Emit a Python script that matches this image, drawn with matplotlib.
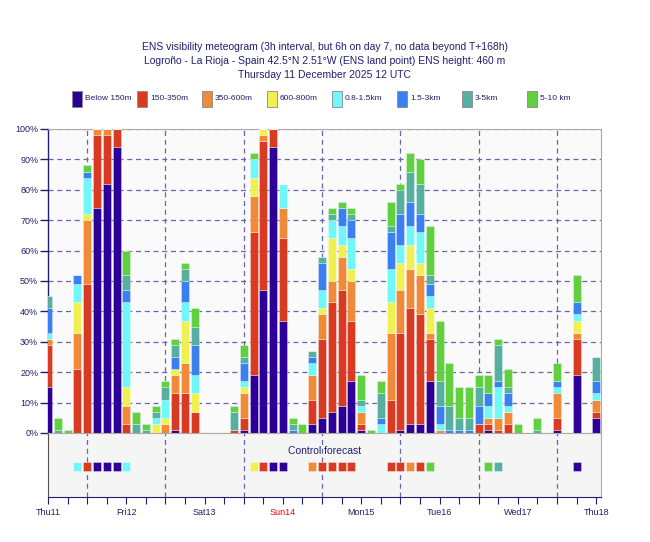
import numpy as np
import matplotlib
matplotlib.use("Agg")
import matplotlib.pyplot as plt
from matplotlib.patches import Rectangle

plt.rcParams["font.family"] = ["Liberation Sans", "DejaVu Sans"]

# forecast steps (hours from base time): 3h up to T+144, then 6h
steps = list(range(0, 145, 3)) + [150, 156, 162, 168]

categories = ["Below 150m", "150-350m", "350-600m", "600-800m",
              "0.8-1.5km", "1.5-3km", "3-5km", "5-10 km"]
colors = ["#2c0096", "#d83a22", "#f08a38", "#f0f050",
          "#70f8f8", "#3a80f0", "#55b0a0", "#60d040"]

# percentage of ensemble members per class, one value per step
below150 = [15, 0, 0, 0, 0, 74, 82, 94, 0, 0, 0, 0, 0, 1, 0, 0, 0, 0, 0, 0,
            1, 19, 47, 94, 37, 0, 0, 3, 5, 7, 9, 17, 1, 0, 0, 0, 1, 3, 3, 17,
            0, 0, 0, 0, 0, 1, 0, 0, 0, 0, 1, 19, 5]
v150_350 = [14, 0, 0, 21, 49, 24, 16, 6, 3, 0, 0, 0, 0, 12, 13, 7, 0, 0, 0, 1,
            4, 47, 49, 6, 27, 0, 0, 8, 26, 36, 38, 20, 2, 0, 0, 11, 32, 38, 36, 14,
            0, 0, 0, 0, 3, 2, 1, 3, 0, 0, 4, 12, 2]
v350_600 = [2, 0, 0, 12, 21, 2, 2, 0, 6, 0, 0, 0, 3, 6, 10, 0, 0, 0, 0, 0,
            8, 12, 2, 0, 10, 0, 0, 8, 8, 7, 11, 13, 4, 0, 0, 22, 14, 13, 13, 2,
            1, 0, 0, 0, 0, 2, 4, 4, 0, 0, 8, 2, 4]
v600_800 = [0, 0, 0, 10, 2, 0, 0, 0, 6, 0, 0, 3, 2, 2, 14, 6, 0, 0, 0, 0,
            2, 6, 2, 0, 0, 0, 0, 0, 2, 14, 4, 4, 0, 0, 0, 10, 9, 8, 4, 8,
            0, 0, 0, 0, 0, 0, 0, 0, 0, 0, 0, 4, 0]
v08_15 = [2, 0, 0, 6, 12, 0, 0, 0, 28, 0, 0, 2, 6, 0, 6, 6, 0, 0, 0, 0,
          2, 6, 0, 0, 8, 0, 0, 4, 6, 6, 6, 10, 2, 0, 3, 11, 6, 6, 10, 4,
          2, 0, 0, 0, 0, 4, 10, 2, 0, 0, 2, 2, 2]
v15_3 = [8, 0, 0, 3, 2, 0, 0, 0, 4, 0, 0, 0, 0, 4, 7, 10, 0, 0, 0, 0,
         6, 0, 0, 0, 0, 1, 0, 2, 9, 0, 6, 6, 0, 0, 2, 12, 10, 8, 6, 4,
         6, 1, 1, 1, 6, 4, 2, 4, 0, 0, 2, 4, 4]
v3_5 = [4, 1, 0, 0, 0, 0, 0, 0, 5, 3, 1, 2, 4, 4, 4, 6, 0, 0, 0, 6,
        2, 0, 0, 0, 0, 2, 0, 2, 2, 2, 0, 2, 2, 0, 8, 2, 8, 10, 10, 3,
        8, 8, 4, 4, 6, 0, 12, 2, 0, 1, 0, 0, 8]
v5_10 = [0, 4, 1, 0, 2, 0, 0, 0, 8, 4, 2, 2, 2, 2, 2, 6, 0, 0, 0, 2,
         4, 2, 0, 0, 0, 2, 3, 0, 0, 2, 2, 2, 8, 1, 4, 8, 2, 6, 8, 16,
         20, 14, 10, 10, 4, 6, 2, 6, 3, 4, 6, 9, 0]
series = [below150, v150_350, v350_600, v600_800, v08_15, v15_3, v3_5, v5_10]

# control forecast class per step (index into categories)
ctrl_hours = [9, 12, 15, 18, 21, 24, 63, 66, 69, 72, 81, 84, 87, 90, 93,
              105, 108, 111, 114, 117, 135, 138, 162]
ctrl_class = [4, 1, 0, 0, 0, 4, 3, 1, 0, 0, 2, 1, 1, 1, 1,
              1, 1, 2, 1, 7, 7, 6, 0]

day_labels = ["Thu11", "Fri12", "Sat13", "Sun14", "Mon15", "Tue16", "Wed17", "Thu18"]

text_c = "#1f1f70"
grid_c = "#6868a8"

fig = plt.figure(figsize=(6.5, 5.42), dpi=100)
W, H = 650, 542
ax = fig.add_axes([48 / W, 1 - 433 / H, 553 / W, 304 / H])
axc = fig.add_axes([48 / W, 1 - 497 / H, 553 / W, 64 / H], sharex=ax)

for a in (ax, axc):
    a.set_facecolor("#fafafa")
    for h in range(12, 168, 24):
        a.axvline(h, color=grid_c, lw=0.9, ls=(0, (4, 3)), zorder=1)
axc.set_facecolor("#f5f5f5")

bottom = np.zeros(len(steps))
for vals, col in zip(series, colors):
    vals = np.array(vals, dtype=float)
    ax.bar(steps, vals, width=2.45, bottom=bottom, color=col,
           edgecolor=(1, 1, 1, 0.45), linewidth=0.5, zorder=3)
    bottom += vals

for yv in range(10, 101, 10):
    ax.axhline(yv, color=grid_c, lw=0.9, ls=(0, (4, 3)), zorder=2)

ax.set_xlim(0, 169.5)
ax.set_ylim(0, 100)
ax.set_yticks(range(0, 101, 10))
ax.set_yticklabels([f"{v}%" for v in range(0, 101, 10)], fontsize=6.5, color=text_c)
ax.tick_params(axis="y", length=6, width=1, color=text_c, pad=1)
ax.tick_params(axis="x", bottom=False, labelbottom=False)
ax.spines["left"].set_color(text_c)
ax.spines["left"].set_linewidth(1)
for s in ("top", "right", "bottom"):
    ax.spines[s].set_color("#b0aaa0")

# control forecast strip
ccols = [colors[c] for c in ctrl_class]
axc.bar(ctrl_hours, [0.14] * len(ctrl_hours), width=2.45, bottom=0.41,
        color=ccols, edgecolor=(1, 1, 1, 0.5), linewidth=0.5, zorder=3)
axc.set_ylim(0, 1)
axc.set_yticks([])
axc.text(0.5, 0.72, "Control forecast", transform=axc.transAxes, ha="center",
         va="center", fontsize=7.5, color=text_c)
axc.set_xticks(range(0, 169, 6), minor=True)
axc.set_xticks(range(0, 169, 24))
axc.set_xticklabels(day_labels, fontsize=6.5)
for lbl in axc.get_xticklabels():
    lbl.set_color("red" if lbl.get_text().startswith("Sun") else text_c)
axc.tick_params(axis="x", which="both", length=5, width=0.8, color=text_c, pad=3)
axc.spines["left"].set_color("#55504a")
axc.spines["bottom"].set_color(text_c)
for s in ("top", "right"):
    axc.spines[s].set_color("#b0aaa0")

# titles
title_lines = [
    "ENS visibility meteogram (3h interval, but 6h on day 7, no data beyond T+168h)",
    "Logroño - La Rioja - Spain 42.5°N 2.51°W (ENS land point) ENS height: 460 m",
    "Thursday 11 December 2025 12 UTC",
]
for i, line in enumerate(title_lines):
    fig.text(325 / W, 1 - (47 + 14 * i) / H, line, ha="center", va="center",
             fontsize=7.5, color=text_c)

# legend
for i, (lab, col) in enumerate(zip(categories, colors)):
    x0 = 72 + 65 * i
    fig.add_artist(Rectangle((x0 / W, 1 - 107 / H), 10 / W, 16 / H,
                             transform=fig.transFigure, facecolor=col,
                             edgecolor="#888888", linewidth=0.6))
    fig.text((x0 + 13) / W, 1 - 98 / H, lab, ha="left", va="center",
             fontsize=6, color=text_c)

fig.savefig("out.png", dpi=100)
